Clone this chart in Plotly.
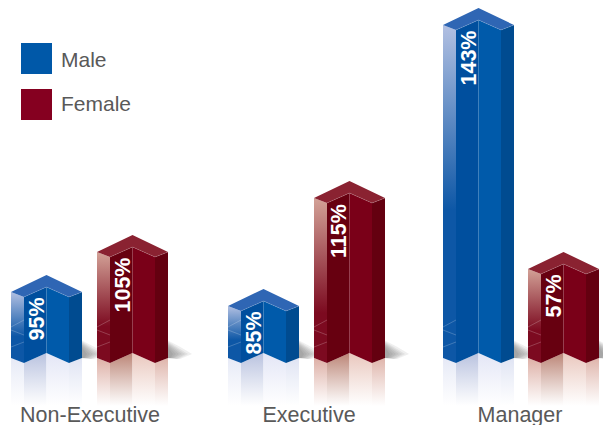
import plotly.graph_objects as go

# ---- data ----
categories = ["Non-Executive", "Executive", "Manager"]
series_names = ["Male", "Female"]
male_labels = ["95%", "85%", "143%"]
female_labels = ["105%", "115%", "57%"]
male_heights = [66, 52, 333]
female_heights = [106, 160, 89]

# ---- layout constants ----
W, H = 603, 425
PLOT_B = 18
BASE_PX = 353
male_left = [11, 228, 443]
female_left = [97, 314, 528]
cat_centres = [90, 309, 520]
XS = [0, 13, 35.5, 58, 71]
DROP = [-5, -10, 0, -10, -5]
REFL = 53
FONT = "Liberation Sans, Arial, sans-serif"
SHADOW_LAYERS = [(24, 9, -6), (20, 8, -6), (17, 7, -6), (14, 6, -5), (11, 5, -5), (8, 4, -5), (5, 3, -5)]

STYLE = {
    "Male": dict(top="#2f66b4", lt="#b2c0e2", lb="#0d57a6", inner="#004f9e", centre="#005aaa", right="#004b90",
                 r=["#e3e7f5", "#b9c2df", "#e3e6f6", "#dce1f2"], legend="#0058a8"),
    "Female": dict(top="#8a2231", lt="#d3a297", lb="#7c0a20", inner="#670010", centre="#7a0018", right="#640010",
                   r=["#d9a69b", "#bb8576", "#e9c7bd", "#dbaca1"], legend="#850020"),
}

fig = go.Figure()


def poly(xs, ys, color=None, grad=None, line=None):
    kw = dict(x=xs + xs[:1], y=ys + ys[:1], mode="lines", fill="toself", hoverinfo="skip", showlegend=False)
    kw["line"] = dict(color=line, width=0.6) if line else dict(width=0, color="rgba(0,0,0,0)")
    if grad:
        kw["fillgradient"] = grad
    else:
        kw["fillcolor"] = color
    fig.add_trace(go.Scatter(**kw))


def bar(left, h, st):
    X = [left + v for v in XS]
    # soft shadow: nested translucent layers
    for reach, up, down in SHADOW_LAYERS:
        poly([X[4] - 1, X[4] + reach * 0.5, X[4] + reach, X[4] + reach * 0.5, X[4] - 1],
             [up + 4, up * 0.7, -1, down, -5], color="rgba(70,70,70,0.085)")
    # reflection
    for i in range(4):
        poly([X[i], X[i + 1], X[i + 1], X[i]],
             [DROP[i], DROP[i + 1], -REFL, -REFL],
             grad=dict(type="vertical", start=-REFL, stop=0,
                       colorscale=[[0, "rgba(255,255,255,0.9)"], [1, st["r"][i]]]))
    # left face
    glen = min(h * 0.75, 190)
    poly([X[0], X[1], X[1], X[0]], [DROP[0], DROP[1], h + DROP[1], h + DROP[0]],
         grad=dict(type="vertical", start=h - glen, stop=h + DROP[0],
                   colorscale=[[0, st["lb"]], [1, st["lt"]]]))
    # remaining faces
    for i, c in ((1, st["inner"]), (2, st["centre"]), (3, st["right"])):
        poly([X[i], X[i + 1], X[i + 1], X[i]],
             [DROP[i], DROP[i + 1], h + DROP[i + 1], h + DROP[i]], color=c)
    # top
    poly([X[0], X[2], X[4], X[3], X[2], X[1]],
         [h + DROP[0], h + 12, h + DROP[4], h + DROP[3], h, h + DROP[1]], color=st["top"])
    # thin light rim where the top meets the front faces
    fig.add_trace(go.Scatter(x=[X[1], X[2], X[3], X[4]], y=[h + DROP[1], h, h + DROP[3], h + DROP[4]],
                             mode="lines", hoverinfo="skip", showlegend=False,
                             line=dict(color="rgba(255,255,255,0.2)", width=0.7)))
    # faint chevrons on the left face
    for y0, y1 in ((26, 33), (23, 18), (6, 11)):
        fig.add_trace(go.Scatter(x=[X[0], X[1]], y=[y0, y1], mode="lines", hoverinfo="skip", showlegend=False,
                                 line=dict(color="rgba(255,255,255,0.3)", width=0.7)))


annotations = []
for name, lefts, heights, labels in (("Male", male_left, male_heights, male_labels),
                                     ("Female", female_left, female_heights, female_labels)):
    for left, h, lab in zip(lefts, heights, labels):
        bar(left, h, STYLE[name])
        annotations.append(dict(x=left + 25, y=h - 10, text=lab, textangle=-90, showarrow=False,
                                xanchor="center", yanchor="top", borderpad=0,
                                font=dict(family=FONT, size=21.5, color="white", weight="bold")))

# legend
for name, px, dy in zip(series_names, (58.5, 104.5), (1, -1)):
    fig.add_trace(go.Scatter(x=[36.5], y=[BASE_PX - px], mode="markers", hoverinfo="skip", showlegend=False,
                             marker=dict(symbol="square", size=31, color=STYLE[name]["legend"], line=dict(width=0))))
    annotations.append(dict(x=59, y=BASE_PX - px - dy, text=name, showarrow=False, xanchor="left", yanchor="middle",
                            font=dict(family=FONT, size=21, color="#595959")))

fig.update_layout(
    width=W, height=H, margin=dict(l=0, r=0, t=0, b=PLOT_B, autoexpand=False), paper_bgcolor="white",
    plot_bgcolor="white", showlegend=False, annotations=annotations,
    xaxis=dict(range=[0, W], tickmode="array", tickvals=cat_centres, ticktext=categories, showgrid=False,
               zeroline=False, showline=False, ticks="", fixedrange=True, automargin=False, ticklabelstandoff=-8,
               tickfont=dict(family=FONT, size=21.5, color="#595959")),
    yaxis=dict(range=[BASE_PX - (H - PLOT_B), BASE_PX], visible=False, fixedrange=True),
)
fig.write_html("out.html", config={"displayModeBar": False},
               post_script="document.body.style.margin='0';document.documentElement.style.overflow='hidden';")
